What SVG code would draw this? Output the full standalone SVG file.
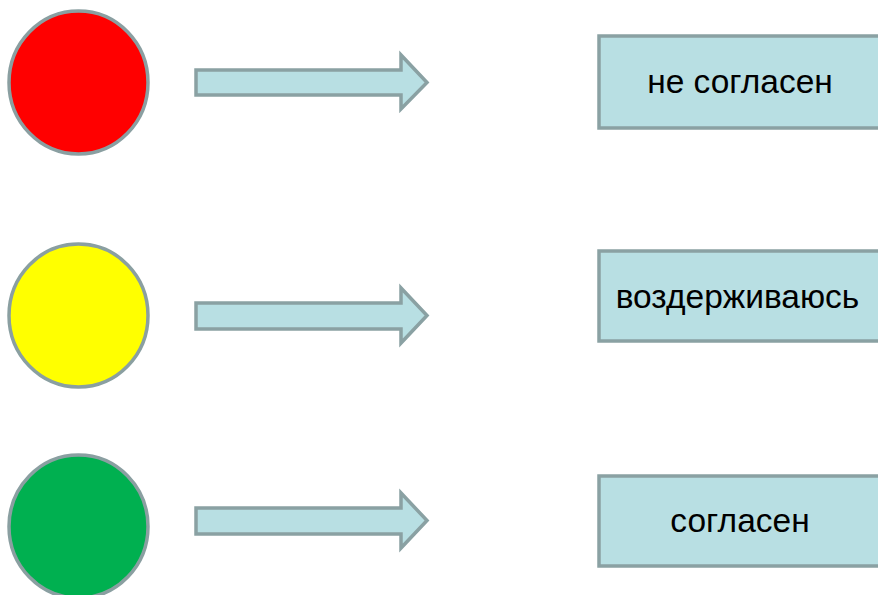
<svg xmlns="http://www.w3.org/2000/svg" width="878" height="595" viewBox="0 0 878 595">
<style>
.lamp{stroke:#8a9fa1;stroke-width:3.5}
.box{fill:#b8dfe3;stroke:#8aa1a3;stroke-width:3.5}
.arr{fill:#b8dfe3;stroke:#8aa1a3;stroke-width:3.5;stroke-linejoin:miter}
.lbl{font-family:"Liberation Sans",Arial,sans-serif;font-size:33.5px;fill:#000;text-anchor:middle}
</style>
<rect width="878" height="595" fill="#fff"/>
<g id="red"><ellipse class="lamp" cx="78.5" cy="82.5" rx="69.5" ry="71.5" fill="#ff0000"/></g>
<g id="yellow"><ellipse class="lamp" cx="78.5" cy="315.5" rx="69.5" ry="71.5" fill="#ffff00"/></g>
<g id="green"><ellipse class="lamp" cx="78.5" cy="526.5" rx="69.5" ry="71.5" fill="#00b050"/></g>
<g id="connectors">
<path class="arr" d="M196,70 H401 V55 L427,82.5 L401,109 V95 H196 Z"/>
<path class="arr" d="M196,303 H401 V288 L427,315.5 L401,343 V329 H196 Z"/>
<path class="arr" d="M196,508 H401 V493 L427,520.5 L401,548 V534 H196 Z"/>
</g>
<g id="box1"><rect class="box" x="599" y="36" width="290" height="92"/><text class="lbl" x="740" y="93">не согласен</text></g>
<g id="box2"><rect class="box" x="599" y="251" width="290" height="90"/><text class="lbl" x="737.5" y="308">воздерживаюсь</text></g>
<g id="box3"><rect class="box" x="599" y="476" width="290" height="90"/><text class="lbl" x="740" y="532">согласен</text></g>
</svg>
